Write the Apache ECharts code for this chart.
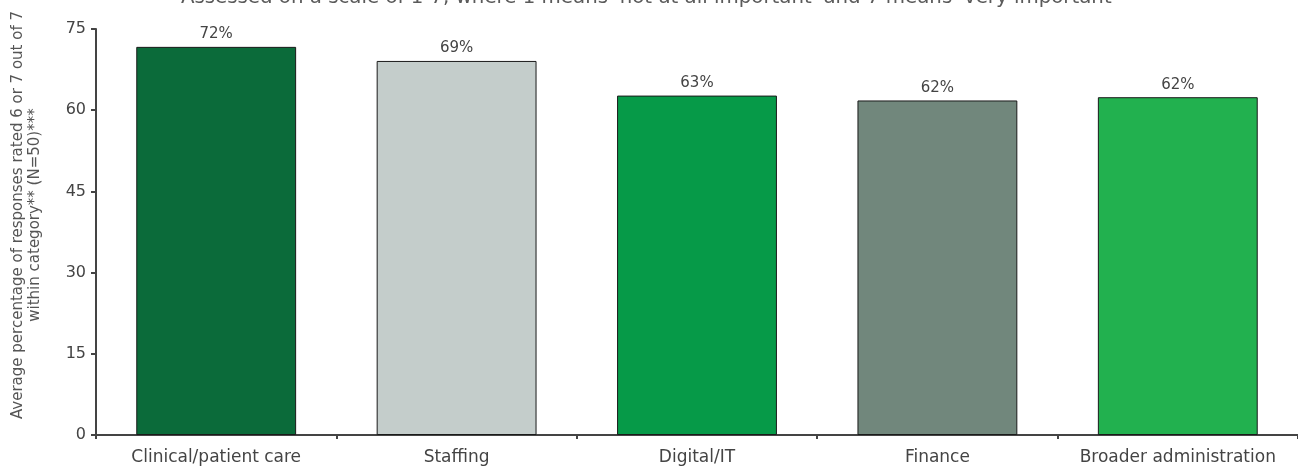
<!DOCTYPE html>
<html><head><meta charset="utf-8">
<script src="https://cdn.jsdelivr.net/npm/echarts@6/dist/echarts.min.js"></script>
<style>html,body{margin:0;padding:0;background:#fff}#c{width:1298px;height:468px}</style>
</head><body><div id="c"></div>
<script>
const categories = ['Clinical/patient care', 'Staffing', 'Digital/IT', 'Finance', 'Broader administration'];
const values = [71.7, 69.1, 62.7, 61.8, 62.4];
const valueLabels = ['72%', '69%', '63%', '62%', '62%'];
const barColors = ['#0b6b3a', '#c4cdcb', '#069a48', '#71877c', '#22b14f'];
const yTicks = [0, 15, 30, 45, 60, 75];
const titleText = "Assessed on a scale of 1-7, where 1 means 'not at all important' and 7 means 'very important'";
const yName = ['Average percentage of responses rated 6 or 7 out of 7', 'within category** (N=50)***'];

const FONT = 'DejaVu Sans';
const chart = echarts.init(document.getElementById('c'));
chart.setOption({
  animation: false,
  textStyle: { fontFamily: FONT },
  title: { text: titleText, left: 'center', top: -17, textStyle: { fontFamily: FONT, fontSize: 19.8, fontWeight: 'normal', color: '#5a5a5a' } },
  grid: { left: 96, right: -8, top: 29, bottom: 33, containLabel: false },
  xAxis: {
    type: 'category', data: categories,
    axisLine: { lineStyle: { color: '#444', width: 2 } },
    axisTick: { show: true, length: 4, interval: 0, lineStyle: { color: '#444', width: 2 } },
    axisLabel: { color: '#444', fontSize: 17, margin: 14, interval: 0, hideOverlap: false, fontFamily: FONT }
  },
  yAxis: {
    type: 'value', min: 0, max: 75, interval: 15,
    axisLine: { show: true, lineStyle: { color: '#444', width: 2 } },
    axisTick: { show: true, length: 5, lineStyle: { color: '#444', width: 2 } },
    axisLabel: { color: '#444', fontSize: 16, margin: 10, fontFamily: FONT, formatter: v => yTicks.includes(v) ? String(v) : '' },
    splitLine: { show: false }
  },
  graphic: [{
    type: 'text', x: 26.5, y: 215, rotation: Math.PI / 2,
    style: { text: yName.join('\n'), fontFamily: FONT, fontSize: 15, fill: '#555', align: 'center', verticalAlign: 'middle', lineHeight: 17 }
  }],
  series: [{
    type: 'bar', barWidth: '66.5%',
    data: values.map((v, i) => ({ value: v, itemStyle: { color: barColors[i] } })),
    itemStyle: { borderColor: '#1a1a1a', borderWidth: 1 },
    label: { show: true, position: 'top', distance: 5, color: '#444', fontSize: 15, fontFamily: FONT, formatter: p => valueLabels[p.dataIndex] }
  }]
});
</script></body></html>
